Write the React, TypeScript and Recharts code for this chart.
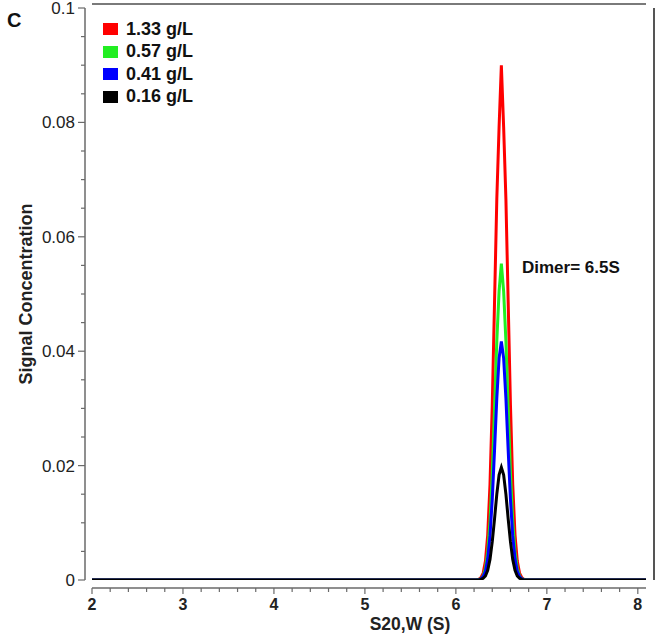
import React from 'react';
import { LineChart, Line, XAxis, YAxis, Legend } from 'recharts';

// sedimentation coefficient grid (S)
const S_VALUES = [
  2, 6.2, 6.225, 6.25, 6.275, 6.3, 6.325, 6.35, 6.375, 6.4, 6.425, 6.45, 6.475, 6.5,
  6.525, 6.55, 6.575, 6.6, 6.625, 6.65, 6.675, 6.7, 6.725, 6.75, 6.775, 6.8, 8.09,
];

const C_133 = [
  0, 0, 0, 0.0001, 0.0004, 0.0012, 0.0033, 0.0079, 0.0167, 0.0306, 0.0486, 0.0666, 0.0792, 0.09,
  0.0792, 0.0666, 0.0486, 0.0306, 0.0167, 0.0079, 0.0033, 0.0012, 0.0004, 0.0001, 0, 0, 0,
];
const C_057 = [
  0, 0, 0, 0.0001, 0.0002, 0.0007, 0.002, 0.0049, 0.0102, 0.0187, 0.03, 0.0418, 0.0505, 0.0553,
  0.0505, 0.0418, 0.03, 0.0187, 0.0102, 0.0049, 0.002, 0.0007, 0.0002, 0.0001, 0, 0, 0,
];
const C_041 = [
  0, 0, 0, 0, 0.0002, 0.0006, 0.0015, 0.0037, 0.0077, 0.0141, 0.0227, 0.0318, 0.0388, 0.0417,
  0.0388, 0.0318, 0.0227, 0.0141, 0.0077, 0.0037, 0.0015, 0.0006, 0.0002, 0, 0, 0, 0,
];
const C_016 = [
  0, 0, 0, 0, 0.0001, 0.0003, 0.0007, 0.0017, 0.0036, 0.0067, 0.0107, 0.015, 0.0184, 0.0197,
  0.0184, 0.015, 0.0107, 0.0067, 0.0036, 0.0017, 0.0007, 0.0003, 0.0001, 0, 0, 0, 0,
];

const SERIES = [
  { key: 'c133', name: '1.33 g/L', color: '#ff0000', values: C_133 },
  { key: 'c057', name: '0.57 g/L', color: '#22ee22', values: C_057 },
  { key: 'c041', name: '0.41 g/L', color: '#0000ff', values: C_041 },
  { key: 'c016', name: '0.16 g/L', color: '#000000', values: C_016 },
];

const X_MAJOR = [2, 3, 4, 5, 6, 7, 8];
const X_MINOR = [
  2.2, 2.4, 2.6, 2.8, 3.2, 3.4, 3.6, 3.8, 4.2, 4.4, 4.6, 4.8, 5.2, 5.4, 5.6, 5.8,
  6.2, 6.4, 6.6, 6.8, 7.2, 7.4, 7.6, 7.8,
];
const Y_MAJOR = [0, 0.02, 0.04, 0.06, 0.08, 0.1];
const Y_MINOR = [0.005, 0.01, 0.015, 0.025, 0.03, 0.035, 0.045, 0.05, 0.055, 0.065, 0.07, 0.075, 0.085, 0.09, 0.095];

const data = S_VALUES.map((s, i) => {
  const row: Record<string, number> = { s };
  SERIES.forEach((sr) => { row[sr.key] = sr.values[i]; });
  return row;
});

const FONT = '"Liberation Sans", Arial, Helvetica, sans-serif';
const AXIS = '#6a6a6a';
const X_DOMAIN: [number, number] = [2, 8.09];
const Y_DOMAIN: [number, number] = [0, 0.1];

const XTick = (props: any) => {
  const { x, y, payload } = props;
  const major = X_MAJOR.includes(payload.value);
  return (
    <g>
      <line x1={x} x2={x} y1={y} y2={y + (major ? 6 : 4)} stroke={AXIS} strokeWidth={1.2} />
      {major && (
        <text x={x} y={y + 22} textAnchor="middle" fontSize={16} fontWeight="bold" fill="#222" fontFamily={FONT}>
          {payload.value}
        </text>
      )}
    </g>
  );
};

const YTick = (props: any) => {
  const { x, y, payload } = props;
  const major = Y_MAJOR.includes(payload.value);
  return (
    <g>
      <line x1={x} x2={x - (major ? 7 : 4)} y1={y} y2={y} stroke={AXIS} strokeWidth={1.2} />
      {major && (
        <text x={x - 10} y={y + 6} textAnchor="end" fontSize={17} fill="#222" fontFamily={FONT}>
          {String(payload.value)}
        </text>
      )}
    </g>
  );
};

const XTitle = (props: any) => {
  const { viewBox } = props;
  return (
    <text
      x={viewBox.x + viewBox.width / 2 + 41} y={viewBox.y + viewBox.height - 6}
      textAnchor="middle" fontSize={17.5} fontWeight="bold" fill="#222" fontFamily={FONT}
    >
      S20,W (S)
    </text>
  );
};

const LegendList = () => (
  <div style={{ fontFamily: FONT }}>
    {SERIES.map((sr) => (
      <div key={sr.key} style={{ display: 'flex', alignItems: 'center', height: 22.5 }}>
        <span style={{ display: 'inline-block', width: 15, height: 12, background: sr.color, marginRight: 8 }} />
        <span style={{ fontSize: 18, fontWeight: 'bold', color: '#111' }}>{sr.name}</span>
      </div>
    ))}
  </div>
);

export default function App() {
  return (
    <div style={{ position: 'absolute', left: 0, top: 0, width: 657, height: 636, background: '#fff' }}>
      <LineChart width={657} height={636} data={data} margin={{ top: 0, right: 0, bottom: 0, left: 0 }}>
        <XAxis xAxisId="gap" type="number" dataKey="s" domain={X_DOMAIN} height={8} tick={false} tickLine={false} axisLine={false} />
        <XAxis
          xAxisId="main" type="number" dataKey="s" domain={X_DOMAIN} allowDataOverflow
          ticks={[...X_MAJOR, ...X_MINOR].sort((a, b) => a - b)} interval={0}
          height={48} tickSize={0} tickMargin={0} tickLine={false} tick={<XTick />}
          axisLine={{ stroke: AXIS, strokeWidth: 1.5 }}
          label={{ content: <XTitle /> }}
        />
        <XAxis xAxisId="topGap" orientation="top" type="number" dataKey="s" domain={X_DOMAIN} height={4} tick={false} tickLine={false} axisLine={false} />
        <XAxis xAxisId="topLine" orientation="top" type="number" dataKey="s" domain={X_DOMAIN} height={4} tick={false} tickLine={false} axisLine={{ stroke: '#7a7a7a', strokeWidth: 2 }} />
        <YAxis yAxisId="leftGap" type="number" domain={Y_DOMAIN} width={7} tick={false} tickLine={false} axisLine={false} />
        <YAxis
          yAxisId="main" type="number" domain={Y_DOMAIN} allowDataOverflow
          ticks={[...Y_MAJOR, ...Y_MINOR].sort((a, b) => a - b)} interval={0}
          width={85} tickSize={0} tickMargin={0} tickLine={false} tick={<YTick />}
          axisLine={{ stroke: AXIS, strokeWidth: 1.5 }}
          label={{ value: 'Signal Concentration', angle: -90, position: 'insideLeft', offset: 26, fontSize: 18, fontWeight: 'bold', fill: '#222', fontFamily: FONT, style: { textAnchor: 'middle' } }}
        />
        <YAxis yAxisId="rightGap" orientation="right" type="number" domain={Y_DOMAIN} width={8} tick={false} tickLine={false} axisLine={false} />
        <YAxis yAxisId="rightLine" orientation="right" type="number" domain={Y_DOMAIN} width={3} tick={false} tickLine={false} axisLine={{ stroke: '#555', strokeWidth: 2 }} />
        <Legend
          layout="vertical" align="center" verticalAlign="middle"
          wrapperStyle={{ left: 103, top: 18, width: 140, height: 92 }}
          content={() => <LegendList />}
        />
        {SERIES.map((sr) => (
          <Line
            key={sr.key} xAxisId="main" yAxisId="main" type="linear" dataKey={sr.key} name={sr.name}
            stroke={sr.color} strokeWidth={3} dot={false} activeDot={false} isAnimationActive={false}
          />
        ))}
      </LineChart>
      <div style={{ position: 'absolute', left: 7, top: 10, fontFamily: FONT, fontSize: 20, fontWeight: 'bold', lineHeight: 1, color: '#111' }}>
        C
      </div>
      <div style={{ position: 'absolute', left: 522, top: 259, fontFamily: FONT, fontSize: 17, fontWeight: 'bold', lineHeight: 1, color: '#111', whiteSpace: 'nowrap' }}>
        Dimer= 6.5S
      </div>
    </div>
  );
}
